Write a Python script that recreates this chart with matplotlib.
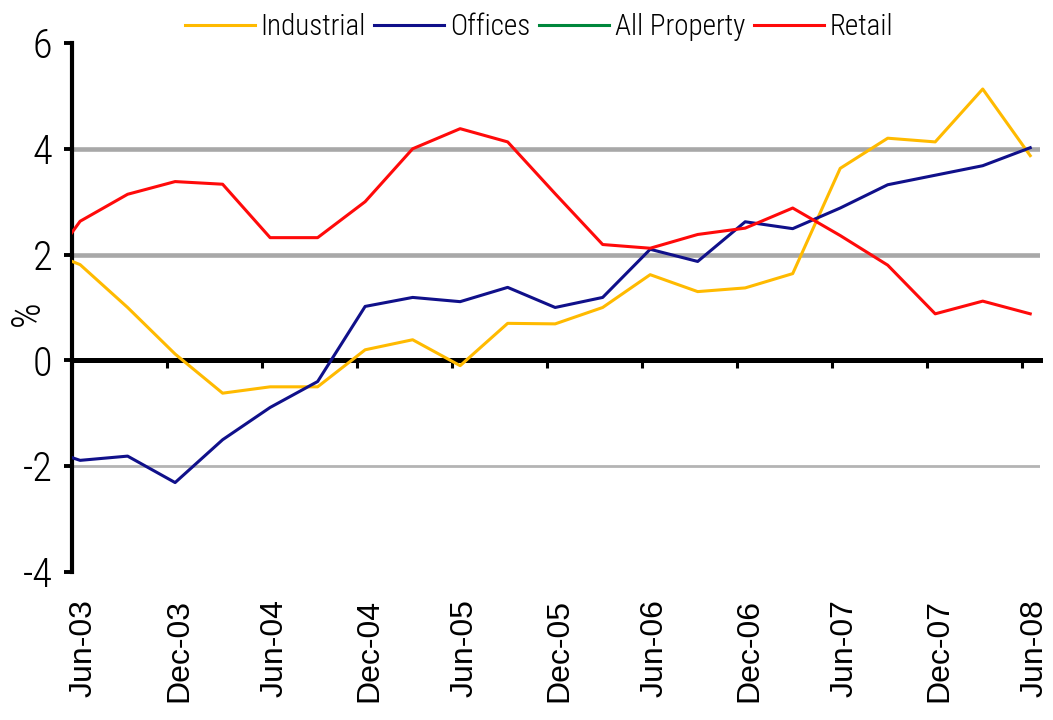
import numpy as np
import matplotlib
matplotlib.use("Agg")
import matplotlib.pyplot as plt
import matplotlib.transforms as mtransforms
from matplotlib import font_manager

# --- data (quarterly % values) ---
quarters = ['Mar-03', 'Jun-03', 'Sep-03', 'Dec-03', 'Mar-04', 'Jun-04', 'Sep-04',
            'Dec-04', 'Mar-05', 'Jun-05', 'Sep-05', 'Dec-05', 'Mar-06', 'Jun-06',
            'Sep-06', 'Dec-06', 'Mar-07', 'Jun-07', 'Sep-07', 'Dec-07', 'Mar-08',
            'Jun-08']
industrial = [2.17, 1.81, 1.00, 0.12, -0.62, -0.50, -0.50, 0.20, 0.39, -0.10, 0.70,
              0.69, 1.00, 1.62, 1.30, 1.37, 1.64, 3.63, 4.20, 4.13, 5.13, 3.87]
offices = [-1.59, -1.89, -1.81, -2.31, -1.50, -0.89, -0.40, 1.02, 1.19, 1.11, 1.38,
           1.00, 1.19, 2.10, 1.87, 2.62, 2.49, 2.88, 3.32, 3.50, 3.68, 4.02]
all_property = []   # shown in the legend only
retail = [1.39, 2.63, 3.14, 3.38, 3.33, 2.32, 2.32, 3.00, 4.00, 4.38, 4.13, 3.15,
          2.19, 2.12, 2.38, 2.50, 2.88, 2.36, 1.80, 0.88, 1.12, 0.88]
tick_labels = ['Jun-03', 'Dec-03', 'Jun-04', 'Dec-04', 'Jun-05', 'Dec-05',
               'Jun-06', 'Dec-06', 'Jun-07', 'Dec-07', 'Jun-08']

# pick a narrow font if one is installed, else a regular one at a smaller size
names = {f.name for f in font_manager.fontManager.ttflist}
narrow_stretch = 'normal'
narrow_family = None
for cand in ['Liberation Sans Narrow', 'Roboto Condensed', 'Open Sans Condensed',
             'Noto Sans Condensed', 'DejaVu Sans Condensed']:
    if cand in names:
        narrow_family = cand
        break
if narrow_family is None:
    cond = [f for f in font_manager.fontManager.ttflist
            if f.stretch in ('condensed', 'semi-condensed', 'extra-condensed')]
    if cond:
        narrow_family = cond[0].name
        narrow_stretch = cond[0].stretch
if narrow_family is None:
    narrow_family = 'Liberation Sans'
    scale = 0.8
else:
    scale = 1.0
narrow = [narrow_family, 'DejaVu Sans']

# --- figure ---
fig = plt.figure(figsize=(10.53, 7.2), dpi=100)
ax = fig.add_axes([0.0684, 0.2056, 0.919, 0.7347])

x = np.arange(len(quarters)) - 1   # Jun-03 sits at 0
ax.plot(x, industrial, color='#FFBA00', lw=2.2, label='Industrial', zorder=3)
ax.plot(x, offices, color='#10108A', lw=2.2, label='Offices', zorder=3)
ax.plot(x[:len(all_property)], all_property, color='#00873C', lw=2.2,
        label='All Property', zorder=3)
ax.plot(x, retail, color='#FF0A0A', lw=2.2, label='Retail', zorder=3)

# gridlines
for yv in (2, 4):
    ax.axhline(yv, color='#a8a8a8', lw=3.3, zorder=1)
ax.axhline(-2, color='#b4b4b4', lw=2, zorder=1)

# axes
ax.spines['top'].set_visible(False)
ax.spines['right'].set_visible(False)
ax.spines['bottom'].set_position(('data', 0))
ax.spines['bottom'].set_linewidth(3.6)
ax.spines['left'].set_linewidth(3)
ax.tick_params(axis='x', direction='out', length=6, width=2.2, pad=166, color='black')
ax.tick_params(axis='y', direction='out', length=6, width=2.8, pad=8, color='black')

tick_pos = [quarters.index(t) - 1 - 0.17 for t in tick_labels]
ax.set_xlim(-0.17, 20.2)
ax.set_ylim(-4, 6)
ax.set_xticks(tick_pos)
ax.set_xticklabels(tick_labels)
ax.set_yticks([-4, -2, 0, 2, 4, 6])
ax.set_yticklabels(['-4', '-2', '0', '2', '4', '6'])

offset = mtransforms.ScaledTranslation(0.12, 0, fig.dpi_scale_trans)
for lab in ax.get_xticklabels():
    lab.set_rotation(90)
    lab.set_fontsize(23)
    lab.set_fontfamily(['Liberation Sans', 'DejaVu Sans'])
    lab.set_va('top')
    lab.set_ha('center')
    lab.set_transform(lab.get_transform() + offset)
for lab in ax.get_yticklabels():
    lab.set_fontsize(29 * scale)
    lab.set_fontfamily(narrow)
    lab.set_fontstretch(narrow_stretch)
    lab.set_fontweight('light')

ax.set_ylabel('%', fontsize=29 * scale, family=narrow, stretch=narrow_stretch,
              weight='light')
ax.yaxis.set_label_coords(-0.026, 0.49)

fig.legend(loc='center', bbox_to_anchor=(0.512, 0.9625), ncol=4, frameon=False,
           prop={'family': narrow, 'size': 21 * scale, 'stretch': narrow_stretch,
                 'weight': 'light'},
           handlelength=2.4 / scale, handletextpad=0.2, columnspacing=0.3)

fig.savefig('out.png', dpi=100)
